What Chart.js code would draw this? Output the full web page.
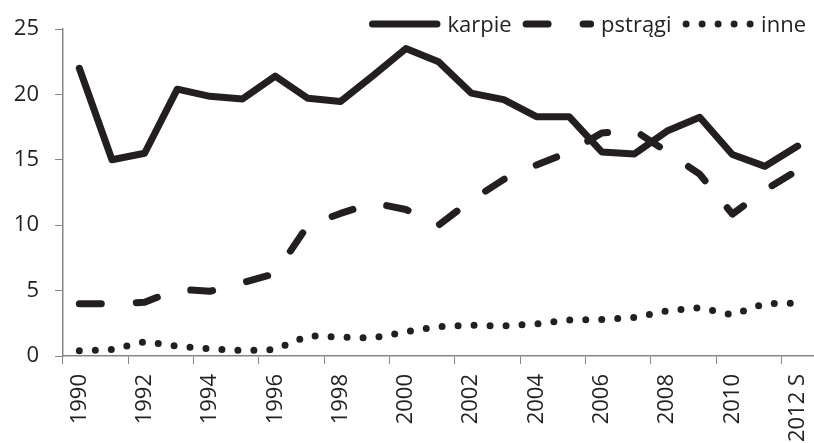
<!DOCTYPE html>
<html>
<head>
<meta charset="utf-8">
<script src="https://cdn.jsdelivr.net/npm/chart.js@4/dist/chart.umd.min.js"></script>
<style>
  html, body { margin: 0; padding: 0; background: #ffffff; }
  #wrap { width: 814px; height: 443px; }
</style>
</head>
<body>
<div id="wrap"><canvas id="fishChart" width="814" height="443"></canvas></div>
<script>
// Production by species
const years = ['1990', '1991', '1992', '1993', '1994', '1995', '1996', '1997', '1998', '1999', '2000',
               '2001', '2002', '2003', '2004', '2005', '2006', '2007', '2008', '2009', '2010', '2011', '2012 S'];
const karpie  = [22.0, 15.0, 15.5, 20.4, 19.85, 19.65, 21.4, 19.7, 19.45, 21.45, 23.5,
                 22.5, 20.1, 19.6, 18.3, 18.3, 15.6, 15.45, 17.2, 18.25, 15.4, 14.5, 16.05];
const pstragi = [4.0, 4.0, 4.1, 5.1, 4.95, 5.6, 6.3, 10.0, 10.9, 11.7, 11.2,
                 10.0, 11.9, 13.5, 14.6, 15.6, 17.05, 17.25, 15.6, 13.9, 10.85, 12.7, 14.2];
const inne    = [0.4, 0.5, 1.1, 0.75, 0.55, 0.42, 0.5, 1.55, 1.45, 1.38, 1.85,
                 2.25, 2.35, 2.3, 2.45, 2.75, 2.8, 2.95, 3.45, 3.7, 3.15, 4.0, 4.05];
const seriesNames = ['karpie', 'pstrągi', 'inne'];
const yMin = 0, yMax = 25, yStep = 5;

const INK = '#231f20';
const AXIS = '#868686';
const FONT_FAMILY = '"Open Sans", "DejaVu Sans", sans-serif';
const FONT_SIZE = 22;

// legend drawn top-right, overlapping the plot like the original
const lineLegend = {
    id: 'lineLegend',
    afterDraw(chart) {
        const ctx = chart.ctx;
        const sets = chart.data.datasets;
        const pathLen = 64.5, cap = 3.5, textGap = 7, itemGap = 11;
        const rightEdge = 806, lineY = 24, baseY = 31.5;
        ctx.save();
        ctx.font = FONT_SIZE + 'px ' + FONT_FAMILY;
        const widths = sets.map(ds => ctx.measureText(ds.label).width);
        let total = 0;
        widths.forEach(w => { total += pathLen + 2 * cap + textGap + w; });
        total += itemGap * (sets.length - 1);
        let x = rightEdge - total;
        sets.forEach((ds, i) => {
            ctx.beginPath();
            ctx.setLineDash(ds.borderDash || []);
            ctx.lineCap = 'round';
            ctx.lineWidth = ds.borderWidth;
            ctx.strokeStyle = ds.borderColor;
            ctx.moveTo(x + cap, lineY);
            ctx.lineTo(x + cap + pathLen, lineY);
            ctx.stroke();
            x += pathLen + 2 * cap + textGap;
            ctx.setLineDash([]);
            ctx.fillStyle = INK;
            ctx.textBaseline = 'alphabetic';
            ctx.textAlign = 'left';
            ctx.fillText(ds.label, x, baseY);
            x += widths[i] + itemGap;
        });
        ctx.restore();
    }
};

const baseLine = {
    borderColor: INK,
    backgroundColor: INK,
    borderWidth: 7,
    borderCapStyle: 'round',
    borderJoinStyle: 'round',
    pointRadius: 0,
    pointHoverRadius: 0,
    tension: 0,
    fill: false
};

new Chart(document.getElementById('fishChart'), {
    type: 'line',
    data: {
        labels: years,
        datasets: [
            Object.assign({}, baseLine, { label: seriesNames[0], data: karpie }),
            Object.assign({}, baseLine, { label: seriesNames[1], data: pstragi, borderDash: [22, 35] }),
            Object.assign({}, baseLine, { label: seriesNames[2], data: inne, borderDash: [0, 16] })
        ]
    },
    options: {
        responsive: false,
        animation: false,
        layout: { padding: { top: 29, right: -4, bottom: 0, left: 0 } },
        plugins: {
            legend: { display: false },
            tooltip: { enabled: false }
        },
        scales: {
            x: {
                offset: true,
                grid: {
                    offset: true,
                    drawOnChartArea: false,
                    drawTicks: true,
                    tickLength: 8,
                    tickColor: c => (c.index % 2 === 0 ? AXIS : 'rgba(0,0,0,0)')
                },
                border: { display: true, color: AXIS, width: 1.5 },
                ticks: {
                    autoSkip: false,
                    minRotation: 90,
                    maxRotation: 90,
                    padding: 10,
                    color: INK,
                    font: { family: FONT_FAMILY, size: FONT_SIZE },
                    callback: (v, i) => (i % 2 === 0 ? years[i] : '')
                },
                afterFit: scale => {
                    scale.height = 87;
                    scale.paddingLeft = 0;
                    scale.paddingRight = 0;
                }
            },
            y: {
                min: yMin,
                max: yMax,
                grid: {
                    drawOnChartArea: false,
                    drawTicks: true,
                    tickLength: 8,
                    tickColor: AXIS
                },
                border: { display: true, color: AXIS, width: 1.5 },
                ticks: {
                    stepSize: yStep,
                    padding: 16,
                    color: INK,
                    font: { family: FONT_FAMILY, size: FONT_SIZE }
                },
                afterFit: scale => {
                    scale.width = 63;
                    scale.paddingTop = 0;
                    scale.paddingBottom = 0;
                }
            }
        }
    },
    plugins: [lineLegend]
});
</script>
</body>
</html>
